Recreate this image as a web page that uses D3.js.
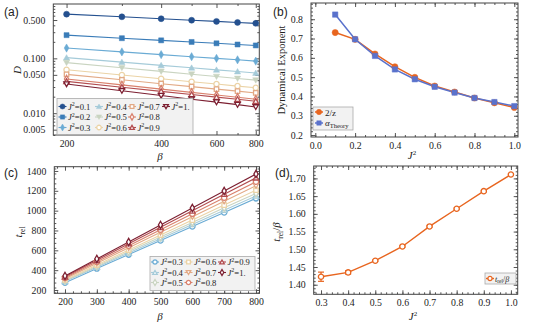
<!DOCTYPE html>
<html>
<head>
<meta charset="utf-8">
<script src="https://cdn.jsdelivr.net/npm/d3@7"></script>
<style>
  body { margin: 0; background: #fff; }
  text { font-family: "Liberation Serif", "DejaVu Serif", serif; fill: #222; }
  .tag { font-family: "Liberation Sans", Arial, sans-serif; font-size: 12px; }
  .tick text { font-size: 9.8px; }
</style>
</head>
<body>
<svg id="fig" width="542" height="325"></svg>
<script>
// ---- data ----
var betas = [200, 300, 400, 500, 600, 700, 800];

// panel (a): D vs beta, one row per J^2
var jA = ["0.1", "0.2", "0.3", "0.4", "0.5", "0.6", "0.7", "0.8", "0.9", "1."];
var dVals = [
  [0.640, 0.572, 0.528, 0.496, 0.472, 0.452, 0.435],
  [0.265, 0.233, 0.213, 0.199, 0.188, 0.179, 0.172],
  [0.154, 0.131, 0.117, 0.107, 0.0998, 0.094, 0.089],
  [0.103, 0.0853, 0.0746, 0.0672, 0.0617, 0.0575, 0.054],
  [0.0835, 0.0673, 0.0578, 0.0514, 0.0466, 0.0429, 0.040],
  [0.062, 0.0497, 0.0424, 0.0375, 0.034, 0.0312, 0.029],
  [0.051, 0.0406, 0.0345, 0.0305, 0.0275, 0.0252, 0.0234],
  [0.042, 0.0328, 0.0275, 0.024, 0.0215, 0.0195, 0.018],
  [0.038, 0.0298, 0.025, 0.0219, 0.0196, 0.0179, 0.0165],
  [0.034, 0.0257, 0.021, 0.018, 0.0159, 0.0143, 0.013]
];
var colA = ["#24508f", "#3a7cb8", "#6aabd4", "#a5cbd9", "#c9d4c1",
            "#ebd3a6", "#e2a985", "#d9816d", "#b24c4f", "#7c1f31"];
var symA = ["circle", "square", "diamond", "up", "down",
            "circle", "square", "diamond", "up", "down"];
var openA = [false, false, false, false, false, true, true, true, true, true];

// panel (b): exponents vs J^2
var jB = [0.1, 0.2, 0.3, 0.4, 0.5, 0.6, 0.7, 0.8, 0.9, 1.0];
var twoOverZ = [0.731, 0.696, 0.620, 0.554, 0.499, 0.454, 0.423, 0.392, 0.367, 0.343];
var alphaTheory = [0.824, 0.696, 0.610, 0.540, 0.489, 0.450, 0.420, 0.392, 0.371, 0.350];

// panel (c): t_rel vs beta for J^2 = 0.3 .. 1
var jC = ["0.3", "0.4", "0.5", "0.6", "0.7", "0.8", "0.9", "1."];
var tRel = [
  [274, 416, 557, 699, 841, 982, 1124],
  [287, 430, 574, 717, 861, 1004, 1148],
  [294, 440, 587, 734, 881, 1028, 1174],
  [302, 452, 603, 754, 905, 1056, 1206],
  [313, 469, 626, 782, 939, 1095, 1252],
  [323, 484, 646, 807, 968, 1130, 1291],
  [333, 499, 666, 832, 998, 1165, 1331],
  [342, 513, 684, 856, 1027, 1198, 1369]
];
var colC = colA.slice(2);
var symC = ["circle", "up", "diamond", "square", "down", "circle", "up", "diamond"];

// panel (d): t_rel/beta vs J^2
var jD = [0.3, 0.4, 0.5, 0.6, 0.7, 0.8, 0.9, 1.0];
var ratio = [1.4226, 1.4348, 1.4677, 1.508, 1.5645, 1.6143, 1.664, 1.711];
var ratioErr = [0.013, 0.005, 0.002, 0.002, 0.002, 0.002, 0.002, 0.002];

var orange = "#e8651f", blue = "#5a72cc";

var svg = d3.select("#fig");

function marker(g, type, x, y, size, color, open) {
  var t = {circle: d3.symbolCircle, square: d3.symbolSquare, diamond: d3.symbolDiamond,
           up: d3.symbolTriangle, down: d3.symbolTriangle}[type];
  var area = {circle: size, square: size * 0.9, diamond: size * 0.7, up: size * 0.6, down: size * 0.6}[type];
  var rot = type == "down" ? 180 : 0;
  var dy = type == "up" ? 0.6 : (type == "down" ? -0.6 : 0);
  g.append("path")
    .attr("d", d3.symbol().type(t).size(area)())
    .attr("transform", "translate(" + x + "," + (y + dy) + ") rotate(" + rot + ")")
    .attr("fill", open ? "#fff" : color)
    .attr("stroke", color)
    .attr("stroke-width", open ? 1.3 : 0.5);
}

// frame with inward ticks on all four sides, labels on left & bottom
function frame(x, y, xt, yt, xfmt, yfmt, xminor, yminor) {
  var g = svg.append("g");
  var r = x.range(), b = y.range();
  var axes = [
    [d3.axisBottom(x), b[0], true],
    [d3.axisTop(x), b[1], false],
  ];
  axes.forEach(function(a) {
    var ax = g.append("g").attr("transform", "translate(0," + a[1] + ")");
    ax.call(a[0].tickValues(xt).tickSize(-4).tickPadding(a[2] ? 5 : 0)
      .tickFormat(a[2] ? xfmt : ""));
    ax.call(function(s) { s.select(".domain").remove(); });
    ax.append("g").call((a[2] ? d3.axisBottom(x) : d3.axisTop(x)).tickValues(xminor).tickSize(-2).tickFormat(""))
      .call(function(s) { s.select(".domain").remove(); });
  });
  var yaxes = [[d3.axisLeft(y), r[0], true], [d3.axisRight(y), r[1], false]];
  yaxes.forEach(function(a) {
    var ax = g.append("g").attr("transform", "translate(" + a[1] + ",0)");
    ax.call(a[0].tickValues(yt).tickSize(-4).tickPadding(a[2] ? 8 : 0)
      .tickFormat(a[2] ? yfmt : ""));
    ax.call(function(s) { s.select(".domain").remove(); });
    ax.append("g").call((a[2] ? d3.axisLeft(y) : d3.axisRight(y)).tickValues(yminor).tickSize(-2).tickFormat(""))
      .call(function(s) { s.select(".domain").remove(); });
  });
  g.selectAll(".tick line").attr("stroke", "#555");
  g.append("rect").attr("x", r[0]).attr("y", b[1])
    .attr("width", r[1] - r[0]).attr("height", b[0] - b[1])
    .attr("fill", "none").attr("stroke", "#444").attr("stroke-width", 1);
  return g;
}

function jLabel(sel, val) {
  sel.append("tspan").style("font-style", "italic").text("J");
  sel.append("tspan").attr("dy", -3.5).style("font-size", "6px").text("2");
  sel.append("tspan").attr("dy", 3.5).text("=" + val);
}

// ---------- (a) ----------
var xA = d3.scaleLog().domain([181.5, 821]).range([53.3, 259.3]);
var yA = d3.scaleLog().domain([0.0040, 0.98]).range([135, 4]);
frame(xA, yA, [200, 400, 600, 800], [0.005, 0.01, 0.05, 0.1, 0.5],
  d3.format("d"), d3.format(".3f"),
  [300, 500, 700],
  [0.004, 0.006, 0.007, 0.008, 0.009, 0.02, 0.03, 0.04, 0.06, 0.07, 0.08, 0.09, 0.2, 0.3, 0.4, 0.6, 0.7, 0.8, 0.9]);
var lineA = d3.line().x(function(d, i) { return xA(betas[i]); }).y(function(d) { return yA(d); });
dVals.forEach(function(s, k) {
  svg.append("path").attr("d", lineA(s)).attr("fill", "none")
    .attr("stroke", colA[k]).attr("stroke-width", 1.1);
});
dVals.forEach(function(s, k) {
  var g = svg.append("g");
  s.forEach(function(v, i) { marker(g, symA[k], xA(betas[i]), yA(v), openA[k] ? 22 : 28, colA[k], openA[k]); });
});
// legend (a)
var legA = svg.append("g");
legA.append("rect").attr("x", 57).attr("y", 98.5).attr("width", 136).attr("height", 36)
  .attr("fill", "#f2f2f2").attr("stroke", "#aaa").attr("stroke-width", 0.8);
jA.forEach(function(j, k) {
  var col = Math.floor(k / 3), row = k % 3;
  var lx = [62.5, 99, 132, 166][col], ly = [106.5, 117, 127.5][row];
  legA.append("line").attr("x1", lx - 4).attr("x2", lx + 4).attr("y1", ly).attr("y2", ly)
    .attr("stroke", colA[k]).attr("stroke-width", 1.1);
  marker(legA, symA[k], lx, ly, openA[k] ? 16 : 20, colA[k], openA[k]);
  var t = legA.append("text").attr("x", lx + 5.5).attr("y", ly + 3.2).style("font-size", "8.6px");
  jLabel(t, j);
});
svg.append("text").attr("class", "tag").attr("x", 4).attr("y", 16).text("(a)");
svg.append("text").attr("transform", "translate(21,70) rotate(-90)").attr("text-anchor", "middle")
  .style("font-style", "italic").style("font-size", "11px").text("D");
svg.append("text").attr("x", 160).attr("y", 160).attr("text-anchor", "middle")
  .style("font-style", "italic").style("font-size", "11px").text("β");

// ---------- (b) ----------
var xB = d3.scaleLinear().domain([-0.0216, 1.0186]).range([311, 518]);
var yB = d3.scaleLinear().domain([0.19, 0.884]).range([137, 3]);
frame(xB, yB, [0, 0.2, 0.4, 0.6, 0.8, 1.0], [0.2, 0.3, 0.4, 0.5, 0.6, 0.7, 0.8],
  d3.format(".1f"), d3.format(".1f"),
  d3.range(0, 1.01, 0.05), d3.range(0.2, 0.881, 0.02));
var lineB = d3.line().x(function(d, i) { return xB(jB[i]); }).y(function(d) { return yB(d); });
svg.append("path").attr("d", lineB(twoOverZ)).attr("fill", "none").attr("stroke", orange).attr("stroke-width", 1.5);
svg.append("path").attr("d", lineB(alphaTheory)).attr("fill", "none").attr("stroke", blue).attr("stroke-width", 1.5);
var gb = svg.append("g");
twoOverZ.forEach(function(v, i) { marker(gb, "circle", xB(jB[i]), yB(v), 30, orange, false); });
alphaTheory.forEach(function(v, i) { marker(gb, "square", xB(jB[i]), yB(v), 32, blue, false); });
var legB = svg.append("g");
legB.append("rect").attr("x", 313).attr("y", 107).attr("width", 40).attr("height", 23)
  .attr("fill", "#f2f2f2").attr("stroke", "#aaa").attr("stroke-width", 0.8);
[[orange, "circle"], [blue, "square"]].forEach(function(m, k) {
  var ly = [112, 123][k];
  legB.append("line").attr("x1", 315).attr("x2", 323).attr("y1", ly).attr("y2", ly)
    .attr("stroke", m[0]).attr("stroke-width", 1.5);
  marker(legB, m[1], 319, ly, 22, m[0], false);
});
legB.append("text").attr("x", 325).attr("y", 115.5).style("font-size", "9px").text("2/z");
var ta = legB.append("text").attr("x", 325).attr("y", 125.5).style("font-size", "9px");
ta.append("tspan").style("font-style", "italic").text("α");
ta.append("tspan").attr("dy", 2).style("font-size", "6.5px").text("Theory");
svg.append("text").attr("class", "tag").attr("x", 273).attr("y", 16).text("(b)");
svg.append("text").attr("transform", "translate(285,70) rotate(-90)").attr("text-anchor", "middle")
  .style("font-size", "10.5px").text("Dynamical Exponent");
var jb = svg.append("text").attr("x", 412).attr("y", 159).attr("text-anchor", "middle").style("font-size", "11px");
jb.append("tspan").style("font-style", "italic").text("J");
jb.append("tspan").attr("dy", -4).style("font-size", "7px").text("2");

// ---------- (c) ----------
var xC = d3.scaleLinear().domain([166.4, 811]).range([54.3, 259.5]);
var yC = d3.scaleLinear().domain([166.7, 1443]).range([293.3, 166.7]);
frame(xC, yC, betas, [200, 400, 600, 800, 1000, 1200, 1400],
  d3.format("d"), d3.format("d"),
  d3.range(175, 811, 25), d3.range(175, 1441, 50));
var lineC = d3.line().x(function(d, i) { return xC(betas[i]); }).y(function(d) { return yC(d); });
tRel.forEach(function(s, k) {
  svg.append("path").attr("d", lineC(s)).attr("fill", "none")
    .attr("stroke", colC[k]).attr("stroke-width", 1.1);
});
tRel.forEach(function(s, k) {
  var g = svg.append("g");
  s.forEach(function(v, i) { marker(g, symC[k], xC(betas[i]), yC(v), 22, colC[k], true); });
});
var legC = svg.append("g");
legC.append("rect").attr("x", 150).attr("y", 256.5).attr("width", 105).attr("height", 34)
  .attr("fill", "#f2f2f2").attr("stroke", "#aaa").attr("stroke-width", 0.8);
jC.forEach(function(j, k) {
  var col = Math.floor(k / 3), row = k % 3;
  var lx = [155, 188.5, 222][col], ly = [262, 272.5, 282.5][row];
  legC.append("line").attr("x1", lx - 4).attr("x2", lx + 4).attr("y1", ly).attr("y2", ly)
    .attr("stroke", colC[k]).attr("stroke-width", 1.1);
  marker(legC, symC[k], lx, ly, 15, colC[k], true);
  var t = legC.append("text").attr("x", lx + 5.5).attr("y", ly + 3.2).style("font-size", "8.6px");
  jLabel(t, j);
});
svg.append("text").attr("class", "tag").attr("x", 4).attr("y", 177).text("(c)");
var tl = svg.append("text").attr("transform", "translate(22,232) rotate(-90)").attr("text-anchor", "middle").style("font-size", "11px");
tl.append("tspan").style("font-style", "italic").text("t");
tl.append("tspan").attr("dy", 2.5).style("font-size", "7.5px").text("rel");
svg.append("text").attr("x", 160).attr("y", 320).attr("text-anchor", "middle")
  .style("font-style", "italic").style("font-size", "11px").text("β");

// ---------- (d) ----------
var xD = d3.scaleLinear().domain([0.273, 1.025]).range([313.7, 517.7]);
var yD = d3.scaleLinear().domain([1.373, 1.735]).range([294.3, 166]);
frame(xD, yD, jD, [1.40, 1.45, 1.50, 1.55, 1.60, 1.65, 1.70],
  d3.format(".1f"), d3.format(".2f"),
  d3.range(0.28, 1.021, 0.02), d3.range(1.38, 1.731, 0.01));
var lineD = d3.line().x(function(d, i) { return xD(jD[i]); }).y(function(d) { return yD(d); });
svg.append("path").attr("d", lineD(ratio)).attr("fill", "none").attr("stroke", orange).attr("stroke-width", 1.4);
var gd = svg.append("g");
ratio.forEach(function(v, i) {
  var cx = xD(jD[i]);
  gd.append("line").attr("x1", cx).attr("x2", cx).attr("y1", yD(v - ratioErr[i])).attr("y2", yD(v + ratioErr[i]))
    .attr("stroke", orange).attr("stroke-width", 1.2);
  [v - ratioErr[i], v + ratioErr[i]].forEach(function(e) {
    gd.append("line").attr("x1", cx - 3).attr("x2", cx + 3).attr("y1", yD(e)).attr("y2", yD(e))
      .attr("stroke", orange).attr("stroke-width", 1.2);
  });
  marker(gd, "circle", cx, yD(v), 22, orange, true);
});
var legD = svg.append("g");
legD.append("rect").attr("x", 485).attr("y", 273).attr("width", 31).attr("height", 11)
  .attr("fill", "#f2f2f2").attr("stroke", "#aaa").attr("stroke-width", 0.8);
legD.append("line").attr("x1", 486).attr("x2", 494).attr("y1", 278.5).attr("y2", 278.5)
  .attr("stroke", orange).attr("stroke-width", 1.4);
marker(legD, "circle", 490, 278.5, 14, orange, true);
var td = legD.append("text").attr("x", 495).attr("y", 281.5).style("font-size", "8px");
td.append("tspan").style("font-style", "italic").text("t");
td.append("tspan").attr("dy", 1.5).style("font-size", "5.5px").text("rel");
td.append("tspan").attr("dy", -1.5).text("/");
td.append("tspan").style("font-style", "italic").text("β");
svg.append("text").attr("class", "tag").attr("x", 275).attr("y", 177).text("(d)");
var tdl = svg.append("text").attr("transform", "translate(280,232) rotate(-90)").attr("text-anchor", "middle").style("font-size", "11px");
tdl.append("tspan").style("font-style", "italic").text("t");
tdl.append("tspan").attr("dy", 2.5).style("font-size", "7.5px").text("rel");
tdl.append("tspan").attr("dy", -2.5).text("/");
tdl.append("tspan").style("font-style", "italic").text("β");
var jd = svg.append("text").attr("x", 413).attr("y", 320).attr("text-anchor", "middle").style("font-size", "11px");
jd.append("tspan").style("font-style", "italic").text("J");
jd.append("tspan").attr("dy", -4).style("font-size", "7px").text("2");
</script>
</body>
</html>
